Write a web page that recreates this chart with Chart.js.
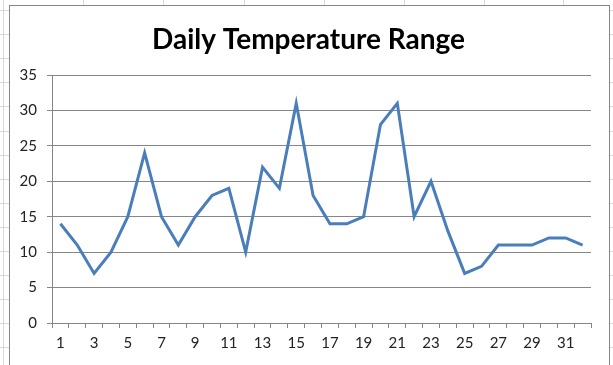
<!DOCTYPE html>
<html>
<head>
<meta charset="utf-8">
<script src="https://cdn.jsdelivr.net/npm/chart.js@4.4.1/dist/chart.umd.min.js"></script>
<style>
  html, body { margin: 0; padding: 0; width: 613px; height: 365px; overflow: hidden; background: #fff; }
  #sheet { position: absolute; left: 0; top: 0; width: 613px; height: 365px; }
  .gl { position: absolute; background: #d9d9d9; }
  #box { position: absolute; left: 9px; top: 5px; width: 601px; height: 380px; box-sizing: border-box;
         border: 1px solid #868686; background: #fff; }
  #wrap { position: absolute; left: 0; top: 0; width: 599px; height: 359px; }
</style>
</head>
<body>
<div id="sheet"></div>
<div id="box"><div id="wrap"><canvas id="c" width="599" height="359"></canvas></div></div>
<script>
// ---- data ----
const title = "Daily Temperature Range";
const days = [1,2,3,4,5,6,7,8,9,10,11,12,13,14,15,16,17,18,19,20,21,22,23,24,25,26,27,28,29,30,31,32];
const range = [14,11,7,10,15,24,15,11,15,18,19,10,22,19,31,18,14,14,15,28,31,15,20,13,7,8,11,11,11,12,12,11];
const yMin = 0, yMax = 35, yStep = 5;

// ---- spreadsheet background decoration ----
(function(){
  const sheet = document.getElementById('sheet');
  for (let y = 10; y < 365; y += 24.1) {
    const d = document.createElement('div'); d.className = 'gl';
    d.style.left = '0px'; d.style.width = '613px'; d.style.top = Math.round(y) + 'px'; d.style.height = '1px';
    sheet.appendChild(d);
  }
  [3, 83, 163, 244, 324, 404, 484, 563].forEach(x => {
    const d = document.createElement('div'); d.className = 'gl';
    d.style.top = '0px'; d.style.height = '365px'; d.style.left = x + 'px'; d.style.width = '1px';
    sheet.appendChild(d);
  });
})();

const axisColor = '#868686';
const tickFont = { family: 'Lato', size: 15 };

// centre the title across the whole chart box (not just the padded layout area)
const centreTitle = {
  id: 'centreTitle',
  afterLayout(chart) {
    const tb = chart.titleBlock;
    if (tb) { tb.left = 16; tb.right = chart.width - 18; tb.width = tb.right - tb.left; }
  }
};

new Chart(document.getElementById('c'), {
  type: 'line',
  data: {
    labels: days,
    datasets: [{
      data: range,
      borderColor: '#4a7ebb',
      borderWidth: 3,
      pointRadius: 0,
      tension: 0,
      fill: false,
      borderJoinStyle: 'miter'
    }]
  },
  plugins: [centreTitle],
  options: {
    responsive: false,
    animation: false,
    layout: { padding: { left: 0, right: 18, top: 0, bottom: 12 } },
    plugins: {
      legend: { display: false },
      tooltip: { enabled: false },
      title: {
        display: true,
        text: title,
        color: '#000',
        font: { family: 'Lato', size: 28, weight: 'bold' },
        padding: { top: 17, bottom: 18.4 }
      }
    },
    scales: {
      x: {
        type: 'category',
        offset: true,
        grid: { display: true, drawOnChartArea: false, drawTicks: true, tickLength: 5, offset: true, color: axisColor },
        border: { display: true, color: axisColor },
        ticks: {
          autoSkip: false, maxRotation: 0, color: '#222', font: tickFont, padding: 6,
          callback: function(v, i) { return i % 2 === 0 ? String(days[i]) : ''; }
        },
        afterFit: function(s) { s.height = 30; }
      },
      y: {
        min: yMin, max: yMax,
        grid: { color: axisColor, drawTicks: true, tickLength: 5 },
        border: { display: true, color: axisColor },
        ticks: { stepSize: yStep, color: '#222', font: tickFont, padding: 10 },
        afterFit: function(s) { s.width = 42; }
      }
    }
  }
});
</script>
</body>
</html>
